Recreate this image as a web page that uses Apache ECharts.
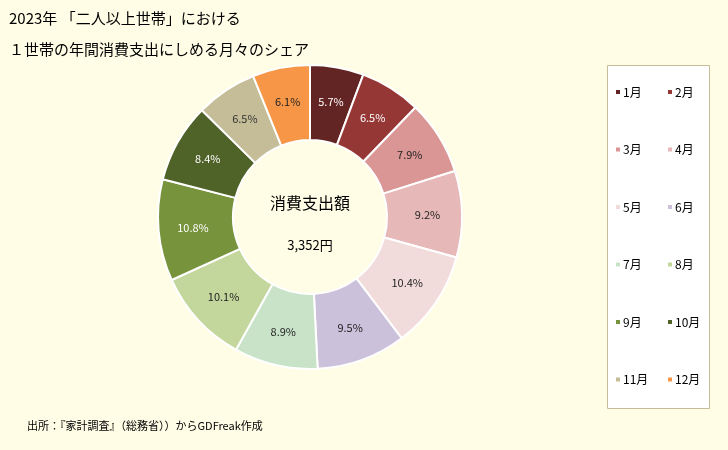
<!DOCTYPE html>
<html lang="ja">
<head>
<meta charset="UTF-8">
<title>月々のシェア</title>
<script src="https://cdn.jsdelivr.net/npm/echarts@6/dist/echarts.min.js"></script>
<style>
    html, body { margin: 0; padding: 0; background: #FFFDE6; }
    #container { width: 728px; height: 450px; }
</style>
</head>
<body>
<div id="container"></div>
<script type="text/javascript">
    // データ
    var months = ['1月','2月','3月','4月','5月','6月','7月','8月','9月','10月','11月','12月'];
    var shares = [5.7, 6.5, 7.9, 9.2, 10.4, 9.5, 8.9, 10.1, 10.8, 8.4, 6.5, 6.1];
    var colors = ['#632523','#953735','#D99694','#E6B9B8','#F2DCDB','#CCC1DA',
                  '#C8E3C8','#C3D69B','#77933C','#4F6228','#C4BD97','#F79646'];
    var labelColors = ['#fff','#fff','#222','#222','#222','#222',
                       '#222','#222','#fff','#fff','#333','#222'];
    var totalText = '3,352円';

    var font = '"Noto Sans CJK JP", sans-serif';
    var dom = document.getElementById('container');
    var myChart = echarts.init(dom, null, { renderer: 'canvas' });

    var pieData = months.map(function (m, i) {
        return {
            name: m,
            value: shares[i],
            itemStyle: { color: colors[i] },
            label: { color: labelColors[i] }
        };
    });

    var legendStyle = {
        orient: 'vertical',
        icon: 'rect',
        padding: 0,
        itemWidth: 6,
        itemHeight: 6,
        itemGap: 45.5,
        textStyle: { fontSize: 12, color: '#000', fontFamily: font, padding: [0, 0, 0, -3] }
    };

    var option = {
        backgroundColor: '#FFFDE6',
        color: colors,
        title: [
            { text: '2023年 「二人以上世帯」における', left: 4, top: 6,
              textStyle: { fontSize: 15, fontWeight: 'normal', color: '#000', fontFamily: font } },
            { text: '１世帯の年間消費支出にしめる月々のシェア', left: 4, top: 37,
              textStyle: { fontSize: 15, fontWeight: 'normal', color: '#000', fontFamily: font } },
            { text: '出所：『家計調査』（総務省））からGDFreak作成', left: 22, top: 415,
              textStyle: { fontSize: 11, fontWeight: 'normal', color: '#000', fontFamily: font } }
        ],
        graphic: [
            { type: 'rect', left: 607, top: 65, shape: { width: 102, height: 343 },
              style: { fill: '#fff', stroke: '#C4BD97', lineWidth: 1 }, z: 0 },
            // 中央のテキスト
            { type: 'text',
              style: { text: '消費支出額', fontSize: 16, fontFamily: font, fill: '#000',
                       x: 310, y: 203, textAlign: 'center', textVerticalAlign: 'middle' } },
            { type: 'text',
              style: { text: totalText, fontSize: 13, fontFamily: font, fill: '#000',
                       x: 310, y: 245, textAlign: 'center', textVerticalAlign: 'middle' } }
        ],
        legend: [
            Object.assign({ left: 614, top: 86, data: months.filter(function (m, i) { return i % 2 === 0; }) }, legendStyle),
            Object.assign({ left: 666, top: 86, data: months.filter(function (m, i) { return i % 2 === 1; }) }, legendStyle)
        ],
        series: [
            {
                type: 'pie',
                center: [310, 217],
                radius: [77, 152],
                startAngle: 90,
                clockwise: true,
                avoidLabelOverlap: false,
                itemStyle: { borderColor: '#fff', borderWidth: 2 },
                label: {
                    show: true,
                    position: 'inside',
                    fontSize: 11,
                    fontFamily: font,
                    formatter: function (p) { return p.value.toFixed(1) + '%'; }
                },
                labelLine: { show: false },
                emphasis: { disabled: true },
                data: pieData
            }
        ]
    };
    myChart.setOption(option);
    window.addEventListener('resize', myChart.resize);
</script>
</body>
</html>
